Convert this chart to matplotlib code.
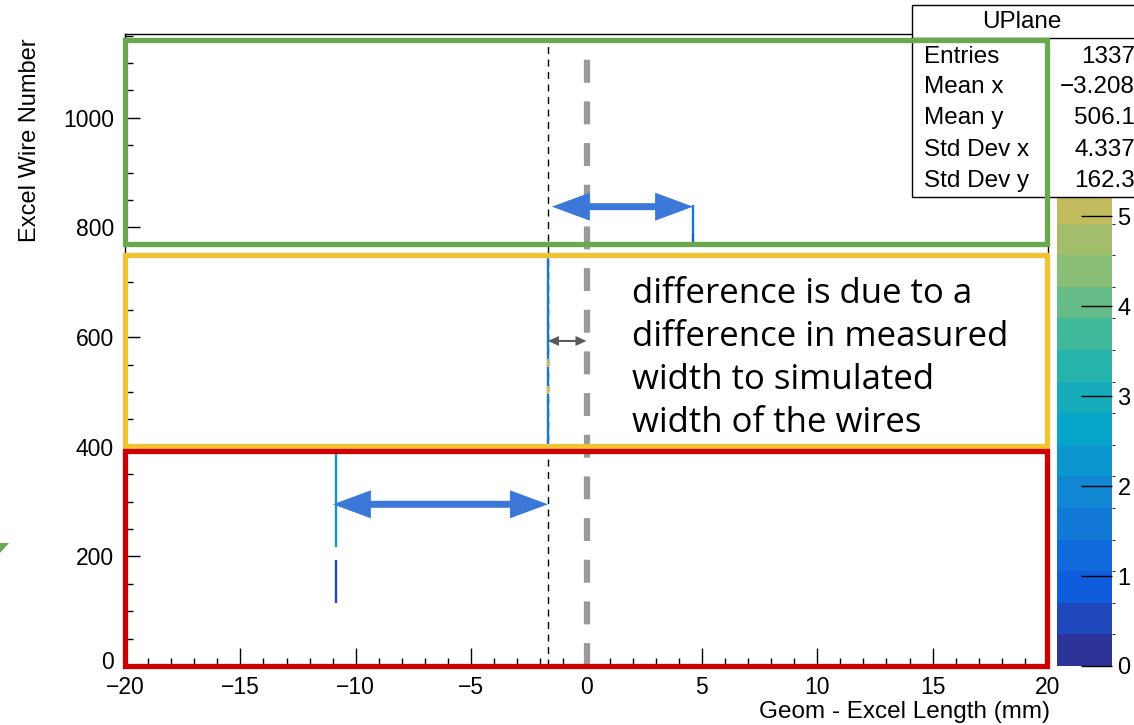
import matplotlib
matplotlib.use("Agg")
import matplotlib.pyplot as plt
import numpy as np
from matplotlib.colors import LinearSegmentedColormap, ListedColormap, BoundaryNorm
from matplotlib.patches import Rectangle, Polygon
from matplotlib.transforms import IdentityTransform, ScaledTranslation
import matplotlib.cm as cm

plt.rcParams['lines.scale_dashes'] = False
plt.rcParams['font.family'] = ['Liberation Sans', 'DejaVu Sans']

# ---------------- data ----------------
seg_x = [-10.85, -10.85, -1.67, -1.67, -1.67, 4.62, 4.62]
seg_lo = [217, 115, 400, 496, 546, 790, 768]
seg_hi = [388, 193, 746, 510, 560, 841, 790]
seg_count = [2.4, 0.7, 1.5, 5.3, 5.0, 1.6, 0.8]

zmax = 7.03
xlim = (-20, 20)
ylim = (0, 1153)
xticks = [-20, -15, -10, -5, 0, 5, 10, 15, 20]
yticks = [0, 200, 400, 600, 800, 1000]
zticks = [0, 1, 2, 3, 4, 5]

stat_title = "UPlane"
stat_names = ["Entries", "Mean x", "Mean y", "Std Dev x", "Std Dev y"]
stat_values = ["1337", "\u22123.208", "506.1", "4.337", "162.3"]

regions = [  # (wire_lo, wire_hi, colour)
    (770, 1142, "#6aa84f"),
    (401, 750, "#f1c232"),
    (0, 392, "#cc0000"),
]
region_x = (-20.0, 19.96)

offset_x = -1.67      # measured offset line
arrow_big = [(-1.50, 4.62, 838), (-10.99, -1.67, 295)]
arrow_small = (-1.67, 0.0, 593)

note = "difference is due to a\ndifference in measured\nwidth to simulated\nwidth of the wires"

# ---------------- palette (ROOT kBird) ----------------
stops = [0.0, 0.125, 0.25, 0.375, 0.5, 0.625, 0.75, 0.875, 1.0]
red = [0.2082, 0.0592, 0.0780, 0.0232, 0.1802, 0.5301, 0.8186, 0.9956, 0.9764]
green = [0.1664, 0.3599, 0.5041, 0.6419, 0.7178, 0.7492, 0.7328, 0.7862, 0.9832]
blue = [0.5293, 0.8684, 0.8385, 0.7914, 0.6425, 0.4662, 0.3499, 0.1968, 0.0539]
bird = LinearSegmentedColormap.from_list(
    "bird", [(s, (r, g, b)) for s, r, g, b in zip(stops, red, green, blue)])
nlev = 20
levels = np.linspace(0, zmax, nlev + 1)
cmap = ListedColormap([bird((i + 0.5) / nlev) for i in range(nlev)])
norm = BoundaryNorm(levels, nlev)

W, H = 1134, 725
fig = plt.figure(figsize=(W / 100, H / 100), dpi=100)


def fx(px):
    return px / W


def fy(py):
    return 1 - py / H


ax = fig.add_axes([fx(125), fy(666), fx(1048) - fx(125), fy(34) - fy(666)])
ax.set_zorder(2)
ax.set_xlim(*xlim)
ax.set_ylim(*ylim)

ax.set_xticks(xticks)
ax.set_xticklabels([str(t).replace('-', '\u2212') for t in xticks])
ax.set_yticks(yticks)
ax.set_yticklabels([str(t) for t in yticks])
ax.set_xticks(np.arange(-20, 21, 1), minor=True)
ax.set_yticks(np.arange(0, 1151, 50), minor=True)
ax.tick_params(axis='x', which='major', direction='in', length=13, width=1, pad=7, labelsize=16.5)
ax.tick_params(axis='x', which='minor', direction='in', length=6, width=1)
ax.tick_params(axis='y', which='major', direction='in', length=11, width=1, pad=8, labelsize=16.5)
ax.tick_params(axis='y', which='minor', direction='in', length=6, width=1)
for s in ax.spines.values():
    s.set_linewidth(1)
# ROOT places the lowest y label slightly above its tick
lab0 = ax.yaxis.get_major_ticks()[0].label1
lab0.set_transform(lab0.get_transform() + ScaledTranslation(0, 4 / 72, fig.dpi_scale_trans))

# axis titles
fig.text(fx(30), fy(38), "Excel Wire Number", rotation=90, ha='center', va='top', fontsize=17)
fig.text(fx(1050), fy(712), "Geom - Excel Length (mm)", ha='right', va='center', fontsize=17.5)

# colour bar
cax = fig.add_axes([fx(1057), fy(666), fx(1112) - fx(1057), fy(34) - fy(666)])
cax.set_zorder(1)
sm = cm.ScalarMappable(norm=norm, cmap=cmap)
cb = fig.colorbar(sm, cax=cax, ticks=zticks, spacing='proportional', drawedges=False)
cb.outline.set_visible(False)
cax.tick_params(direction='in', length=22, width=1, pad=4, labelsize=17)

# dashed reference lines
ax.plot([offset_x, offset_x], [0, 1142], color='black', lw=1, dashes=(5, 4), zorder=3, clip_on=False)
ax.plot([0, 0], [0, 1142], color='#999999', lw=4.5, dashes=(16.5, 13.5), zorder=3, clip_on=False)

# histogram cells (thin wire columns)
ax.vlines(seg_x, seg_lo, seg_hi, colors=cmap(norm(seg_count)), lw=1.7, zorder=3.5)

# stats box (figure coords, drawn inside main axes so overlays go on top)
ax.add_patch(Rectangle((fx(912), fy(197)), fx(1140) - fx(912), fy(5) - fy(197),
                       transform=fig.transFigure, facecolor='white', edgecolor='black',
                       lw=1, zorder=4, clip_on=False))
ax.plot([fx(912), fx(1140)], [fy(38), fy(38)], transform=fig.transFigure, color='black',
        lw=1, zorder=4, clip_on=False)
ax.text(fx(1022), fy(22), stat_title, transform=fig.transFigure, ha='center', va='center',
        fontsize=17.5, zorder=4, clip_on=False)
row_y = [57, 87, 118, 150, 181]
for name, val, ry in zip(stat_names, stat_values, row_y):
    ax.text(fx(924), fy(ry), name, transform=fig.transFigure, ha='left', va='center',
            fontsize=17.5, zorder=4, clip_on=False)
    ax.text(fx(1135), fy(ry), val, transform=fig.transFigure, ha='right', va='center',
            fontsize=17.5, zorder=4, clip_on=False)

# coloured region boxes
for lo, hi, col in regions:
    ax.add_patch(Rectangle((region_x[0], lo), region_x[1] - region_x[0], hi - lo,
                           fill=False, edgecolor=col, lw=3.8, zorder=6, clip_on=False))


# double arrows, built in pixel space from data end points
def double_arrow(x1, x2, yv, hl, hh, sh, color):
    xa, yc = ax.transData.transform((x1, yv))
    xb, _ = ax.transData.transform((x2, yv))
    verts = [(xa, yc), (xa + hl, yc + hh), (xa + hl, yc + sh), (xb - hl, yc + sh),
             (xb - hl, yc + hh), (xb, yc), (xb - hl, yc - hh), (xb - hl, yc - sh),
             (xa + hl, yc - sh), (xa + hl, yc - hh)]
    ax.add_patch(Polygon(verts, closed=True, transform=IdentityTransform(),
                         facecolor=color, edgecolor='none', zorder=7, clip_on=False))


for x1, x2, yv in arrow_big:
    double_arrow(x1, x2, yv, 38, 14, 3.5, '#3c78d8')
x1, x2, yv = arrow_small
double_arrow(x1, x2, yv, 11, 5, 1.0, '#595959')

# note text
ax.text(fx(632), fy(277), note, transform=fig.transFigure, ha='left', va='top',
        fontsize=25, family=['Open Sans', 'DejaVu Sans'], linespacing=1.35, zorder=7,
        clip_on=False)

# small green slide artefact at left edge
fig.patches.append(Polygon([[fx(0), fy(543)], [fx(9), fy(543)], [fx(0), fy(553)]],
                           closed=True, transform=fig.transFigure, facecolor='#6aa84f',
                           edgecolor='none'))

fig.savefig("out.png", dpi=100)
